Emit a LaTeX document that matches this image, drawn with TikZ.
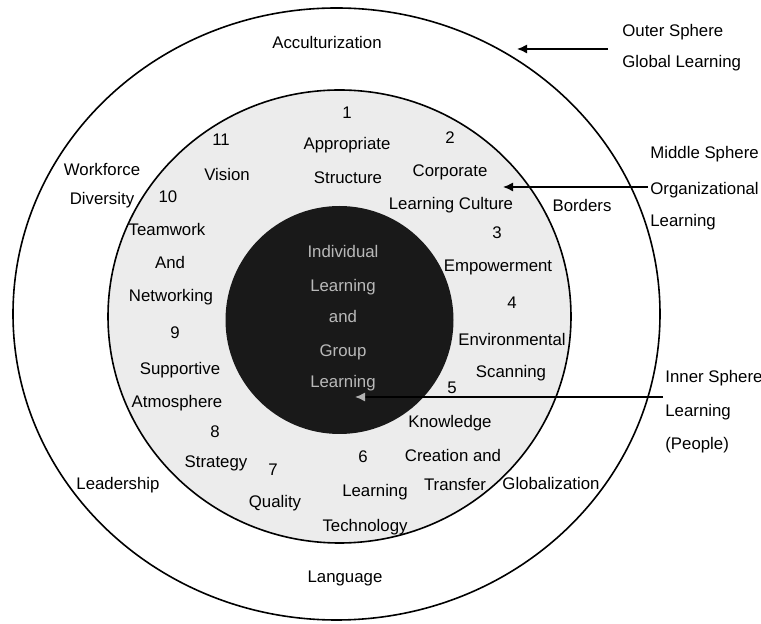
\documentclass[tikz,border=0pt]{standalone}
\usepackage{fontspec}
\setmainfont{Liberation Sans}
\usetikzlibrary{arrows.meta}
\tikzset{
 lbl/.style={font=\fontsize{8.4}{10}\selectfont,inner sep=1pt},
 side/.style={lbl,anchor=west},
 core/.style={lbl,text=gray!55},
 ring/.style={draw,line width=0.8pt},
 arrow/.style={-{Latex[length=5pt,width=4.5pt]},line width=0.7pt}
}

\begin{document}
\begin{tikzpicture}[x=0.5pt,y=-0.5pt]
\useasboundingbox (0,0) rectangle (761,624);
% the three spheres
\draw[ring] (336.5,314) ellipse [x radius=161.75pt,y radius=153pt];
\draw[ring,fill=gray!15] (339.5,316.5) ellipse [x radius=115.75pt,y radius=113.25pt];
\fill[black!90] (339.5,320) circle [radius=57pt];

% outer sphere
\node[lbl] (accult) at (327,43) {Acculturization};
\node[lbl] (workf) at (102,170) {Workforce};
\node[lbl] (divers) at (102,200) {Diversity};
\node[lbl] (borders) at (582,206) {Borders};
\node[lbl] (leader) at (118,485) {Leadership};
\node[lbl] (global) at (551,483) {Globalization};
\node[lbl] (lang) at (345,578) {Language};

% middle sphere
\node[lbl] (n1) at (347,113) {1};
\node[lbl] (approp) at (347,145) {Appropriate};
\node[lbl] (struct) at (348,178) {Structure};
\node[lbl] (n2) at (450,138) {2};
\node[lbl] (corp) at (450,172) {Corporate};
\node[lbl] (lculture) at (451,205) {Learning Culture};
\node[lbl] (n3) at (497,233) {3};
\node[lbl] (empow) at (498,267) {Empowerment};
\node[lbl] (n4) at (512,303) {4};
\node[lbl] (envir) at (512,340) {Environmental};
\node[lbl] (scan) at (511,373) {Scanning};
\node[lbl] (n5) at (452,388) {5};
\node[lbl] (knowl) at (450,423) {Knowledge};
\node[lbl] (creat) at (453,455) {Creation and};
\node[lbl] (transf) at (455,485) {Transfer};
\node[lbl] (n6) at (363,457) {6};
\node[lbl] (ltech) at (375,492) {Learning};
\node[lbl] (tech) at (365,527) {Technology};
\node[lbl] (n7) at (273,470) {7};
\node[lbl] (qual) at (275,503) {Quality};
\node[lbl] (n8) at (215,432) {8};
\node[lbl] (strat) at (216,463) {Strategy};
\node[lbl] (n9) at (175,333) {9};
\node[lbl] (supp) at (180,370) {Supportive};
\node[lbl] (atmos) at (177,403) {Atmosphere};
\node[lbl] (n10) at (168,197) {10};
\node[lbl] (team) at (167,230) {Teamwork};
\node[lbl] (and) at (170,263) {And};
\node[lbl] (netw) at (171,297) {Networking};
\node[lbl] (n11) at (221,140) {11};
\node[lbl] (vision) at (227,175) {Vision};

% inner sphere
\node[core] (indiv) at (343,252) {Individual};
\node[core] (ilearn) at (343,287) {Learning};
\node[core] (iand) at (343,317) {and};
\node[core] (group) at (343,352) {Group};
\node[core] (glearn) at (343,383) {Learning};

% legend on the right
\node[side] (outer1) at (620,32) {Outer Sphere};
\node[side] (outer2) at (620,63) {Global Learning};
\node[side] (mid1) at (648,154) {Middle Sphere};
\node[side] (mid2) at (648,190) {Organizational};
\node[side] (mid3) at (648,222) {Learning};
\node[side] (inn1) at (663,378) {Inner Sphere};
\node[side] (inn2) at (663,412) {Learning};
\node[side] (inn3) at (663,445) {(People)};

\coordinate (outtail) at (608,49);
\coordinate (outtip) at (517,49);
\coordinate (midtail) at (648,187);
\coordinate (midtip) at (503,187);
\coordinate (inntail) at (663,397);
\coordinate (inntip) at (355,397);
\draw[arrow] (outtail) -- (outtip);
\draw[arrow] (midtail) -- (midtip);
\draw[arrow,-{Latex[length=5pt,width=4.5pt,color=gray!60]}] (inntail) -- (inntip);
\end{tikzpicture}
\end{document}
